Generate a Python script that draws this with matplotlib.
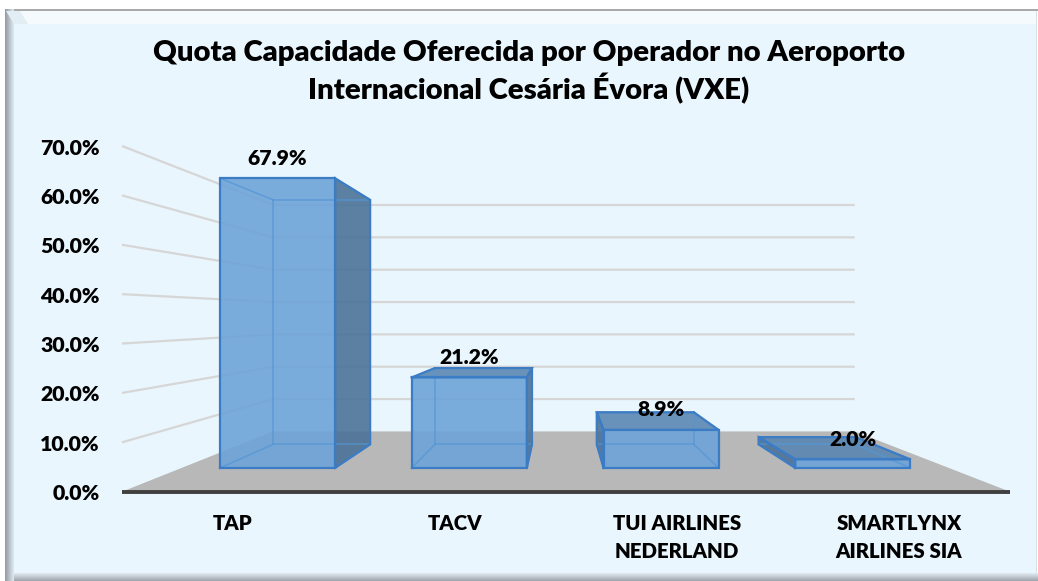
import matplotlib
matplotlib.use("Agg")
import matplotlib.pyplot as plt
from matplotlib.patches import Polygon, Rectangle

# ---------------- data ----------------
categories = ["TAP", "TACV", "TUI AIRLINES\nNEDERLAND", "SMARTLYNX\nAIRLINES SIA"]
shares = [67.9, 21.2, 8.9, 2.0]
tick_values = [0, 10, 20, 30, 40, 50, 60, 70]
title_lines = ["Quota Capacidade Oferecida por Operador no Aeroporto",
               "Internacional Cesária Évora (VXE)"]

# ---------------- figure ----------------
W, H = 1038, 581
DPI = 100
PX2PT = 72.0 / DPI
WEIGHT = 'heavy'
plt.rcParams['font.family'] = ['Lato', 'DejaVu Sans']
fig = plt.figure(figsize=(W / DPI, H / DPI), dpi=DPI)
fig.patch.set_facecolor("white")


def prect(x0, y0, x1, y1, color):
    fig.add_artist(Rectangle((x0 / W, 1 - y1 / H), (x1 - x0) / W, (y1 - y0) / H,
                             transform=fig.transFigure, facecolor=color,
                             edgecolor='none', zorder=-5))


def mix(c0, c1, t):
    return tuple((a + (b - a) * t) / 255.0 for a, b in zip(c0, c1))


# chart-area frame
prect(5, 9, 1038, 11, '#A9A9A9')
prect(5, 11, 1036, 24, '#F5FAFD')
prect(14, 24, 1036, 573, '#EAF6FD')
prect(1036, 11, 1037, 573, '#D5E0E7')
for i in range(9):
    prect(5 + i, 9, 6 + i, 581, mix((150, 156, 162), (218, 230, 238), i / 8))
for j in range(8):
    prect(14, 573 + j, 1038, 574 + j, mix((222, 231, 237), (160, 167, 173), j / 7))
fig.add_artist(Polygon([(14 / W, 1 - 24 / H), (6 / W, 1 - 11 / H), (20 / W, 1 - 11 / H),
                        (28 / W, 1 - 24 / H)], closed=True, transform=fig.transFigure,
                       facecolor='#E3EEF4', edgecolor='none', zorder=-4))

# ---------------- axes: front plane in data units ----------------
ax = fig.add_axes([0, 0, 1, 1])
ax.set_facecolor('none')
ax.axis('off')
X0, X1 = 122.0, 1010.0          # pixel x of category 0 and 4 on front plane
Y0, Y70 = 491.7, 146.0          # pixel y (from top) of 0 % and 70 %
ppx = (X1 - X0) / len(categories)
ppy = (Y0 - Y70) / 70.0
ax.set_xlim(-X0 / ppx, (W - X0) / ppx)
ax.set_ylim(-(H - Y0) / ppy, Y0 / ppy)


def py2v(py):
    return (Y0 - py) / ppy


def px2x(px):
    return (px - X0) / ppx


# perspective
VX, VY = px2x(560.0), py2v(317.0)
K = 0.527
D0, D1 = 0.30, 0.705
HALF = 0.30


def proj(x, v, d):
    f = 1.0 / (1.0 + K * d)
    return (VX + (x - VX) * f, VY + (v - VY) * f)


n = len(categories)
# floor
floor = [proj(0, 0, 0), proj(n, 0, 0), proj(n, 0, 1), proj(0, 0, 1)]
ax.add_patch(Polygon(floor, closed=True, facecolor='#B8B8B8', edgecolor='none', zorder=1))

# gridlines on left wall and back wall
for v in tick_values[1:]:
    pts = [proj(0, v, 0), proj(0, v, 1), proj(n, v, 1)]
    ax.plot([p[0] for p in pts], [p[1] for p in pts], color='#D6D6D6', lw=1.6,
            zorder=0.5, solid_capstyle='butt')

# floor front edge
a, b = proj(0, 0, 0), proj(n, 0, 0)
ax.plot([a[0], b[0]], [a[1], b[1]], color='#404040', lw=2.8, zorder=2,
        solid_capstyle='butt')

# ---------------- bars ----------------
FRONT = '#6DA3D8'
SIDE = '#4C7398'
TOP = '#5A87B2'
EDGE = '#3B7CC5'
INNER = '#5496D6'

for i, val in enumerate(shares):
    xc = i + 0.5
    xl, xr = xc - HALF, xc + HALF
    c = {}
    for xn, xx in (('l', xl), ('r', xr)):
        for vn, vv in (('b', 0.0), ('t', val)):
            for dn, dd in (('f', D0), ('k', D1)):
                c[xn + vn + dn] = proj(xx, vv, dd)
    faces = []
    faces.append(([c['lbf'], c['rbf'], c['rtf'], c['ltf']], FRONT))
    if xr < VX:
        faces.append(([c['rbf'], c['rbk'], c['rtk'], c['rtf']], SIDE))
    if xl > VX:
        faces.append(([c['lbf'], c['lbk'], c['ltk'], c['ltf']], SIDE))
    if val < VY:
        faces.append(([c['ltf'], c['rtf'], c['rtk'], c['ltk']], TOP))
    for poly, col in faces:
        ax.add_patch(Polygon(poly, closed=True, facecolor=col, edgecolor='none',
                             alpha=0.9, zorder=3 + i * 0.1))
    edges = [('lbf', 'rbf'), ('rbf', 'rtf'), ('rtf', 'ltf'), ('ltf', 'lbf'),
             ('lbk', 'rbk'), ('rbk', 'rtk'), ('rtk', 'ltk'), ('ltk', 'lbk'),
             ('lbf', 'lbk'), ('rbf', 'rbk'), ('rtf', 'rtk'), ('ltf', 'ltk')]
    for e0, e1 in edges:
        ax.plot([c[e0][0], c[e1][0]], [c[e0][1], c[e1][1]], color=INNER, lw=1.1,
                alpha=0.75, zorder=3.02 + i * 0.1)
    for poly, col in faces:
        xs = [p[0] for p in poly] + [poly[0][0]]
        ys = [p[1] for p in poly] + [poly[0][1]]
        ax.plot(xs, ys, color=EDGE, lw=1.6, zorder=3.05 + i * 0.1,
                solid_joinstyle='miter')

# ---------------- text ----------------
renderer = fig.canvas.get_renderer()


def fit_size(text, target_px, size0=16):
    t = fig.text(0, 0, text, fontsize=size0, fontweight=WEIGHT)
    w = t.get_window_extent(renderer=renderer).width
    t.remove()
    return size0 * target_px / w


fs_title = fit_size(title_lines[0], 752)
fs_tick = fit_size("70.0%", 60)
fs_cat = fit_size("TUI AIRLINES", 129)

for line, base in zip(title_lines, (61.0, 99.5)):
    ax.text(px2x(529), py2v(base), line, ha='center', va='baseline',
            fontsize=fs_title, fontweight=WEIGHT, color='black', zorder=10)

for v in tick_values:
    ax.annotate(f"{v:.1f}%", xy=(px2x(100), v), xytext=(0, -8.5 * PX2PT),
                textcoords='offset points', ha='right', va='baseline',
                fontsize=fs_tick, fontweight=WEIGHT, color='black', zorder=10)

for i, cat in enumerate(categories):
    for j, line in enumerate(cat.split("\n")):
        ax.text(i + 0.5, py2v(529.5 + 29.0 * j), line, ha='center', va='baseline',
                fontsize=fs_cat, fontweight=WEIGHT, color='black', zorder=10)

for i, val in enumerate(shares):
    ax.annotate(f"{val:.1f}%", xy=proj(i + 0.5, val, D0), xytext=(0, 20 * PX2PT),
                textcoords='offset points', ha='center', va='center',
                fontsize=fs_tick, fontweight=WEIGHT, color='black', zorder=10)

fig.savefig("out.png", dpi=DPI, facecolor=fig.get_facecolor())
